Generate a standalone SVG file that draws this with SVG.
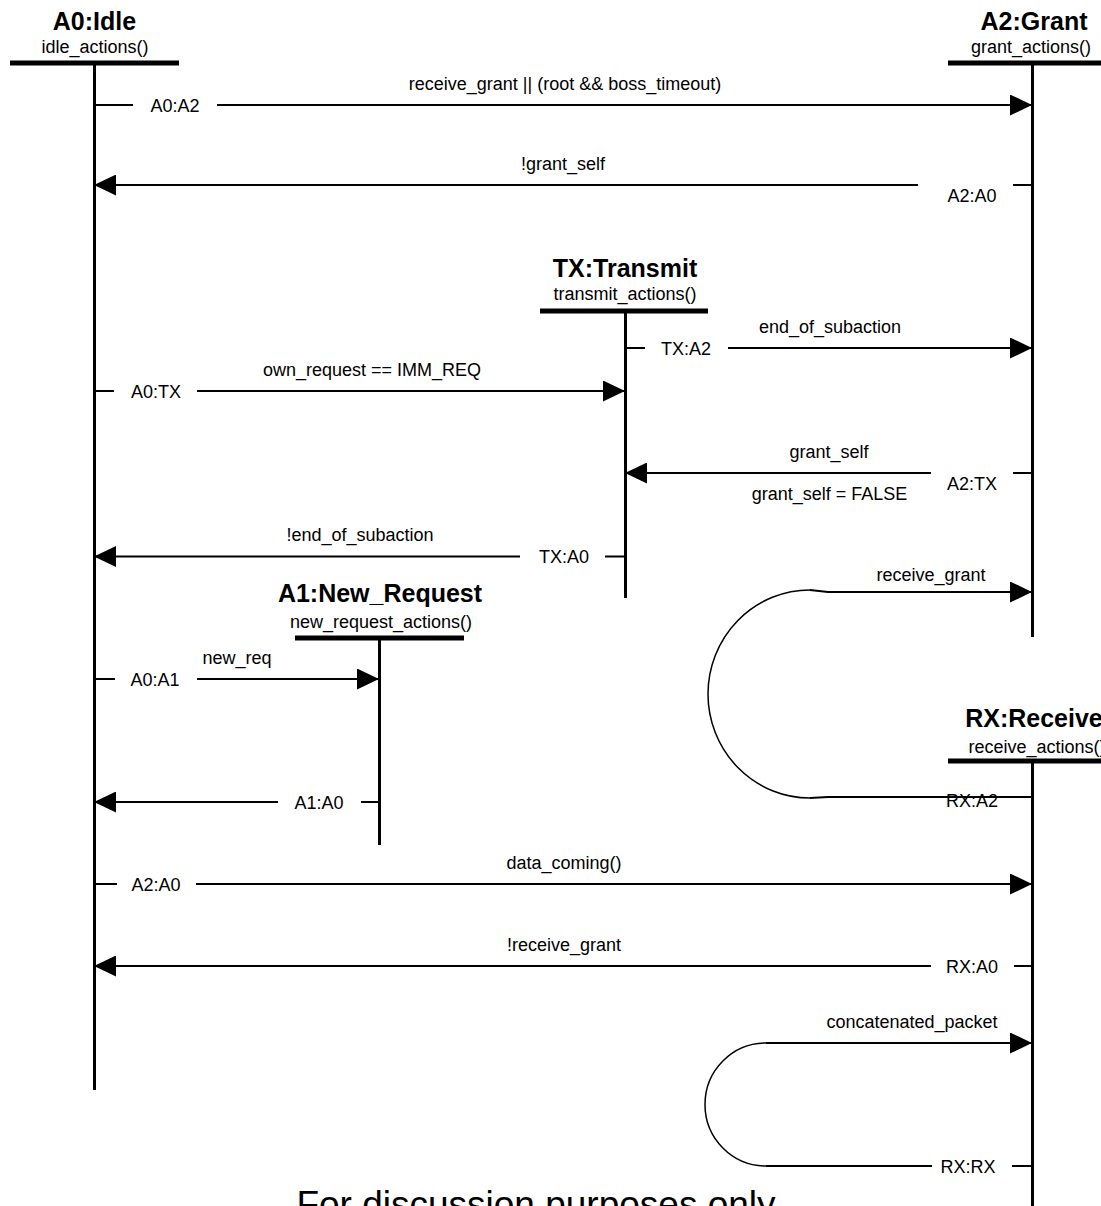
<svg xmlns="http://www.w3.org/2000/svg" width="1101" height="1206" viewBox="0 0 1101 1206">
<style>
.t{font-family:"Liberation Sans",Arial,Helvetica,sans-serif;fill:#000;text-anchor:middle}
.title{font-weight:bold;font-size:25px}
.sub{font-size:18px}
.lbl{font-size:18px}
.foot{font-size:37px}
.bar{stroke:#000;stroke-width:5}
.life{stroke:#000;stroke-width:3}
.msg{stroke:#000;stroke-width:2;fill:none}
.arc{stroke:#000;stroke-width:1.5;fill:none}
.arr{marker-end:url(#ah)}
</style>
<defs>
<marker id="ah" markerUnits="userSpaceOnUse" markerWidth="22" markerHeight="21" refX="22" refY="10.5" orient="auto"><path d="M0,0 L22,10.5 L0,21 Z" fill="#000"/></marker>
</defs>
<rect width="1101" height="1206" fill="#fff"/>

<g id="A0">
<text class="t title" x="94.5" y="30">A0:Idle</text>
<text class="t sub" x="95" y="53">idle_actions()</text>
<line class="bar" x1="10" y1="63" x2="179" y2="63"/>
<line class="life" x1="94.5" y1="63" x2="94.5" y2="1090"/>
</g>

<g id="A2">
<text class="t title" x="1034" y="30">A2:Grant</text>
<text class="t sub" x="1031" y="53">grant_actions()</text>
<line class="bar" x1="948" y1="63" x2="1117" y2="63"/>
<line class="life" x1="1032.5" y1="63" x2="1032.5" y2="637"/>
</g>

<g id="TX">
<text class="t title" x="625" y="277">TX:Transmit</text>
<text class="t sub" x="625" y="300">transmit_actions()</text>
<line class="bar" x1="540" y1="311" x2="708" y2="311"/>
<line class="life" x1="625.5" y1="311" x2="625.5" y2="598"/>
</g>

<g id="A1">
<text class="t title" x="380" y="602">A1:New_Request</text>
<text class="t sub" x="381" y="628">new_request_actions()</text>
<line class="bar" x1="295" y1="638" x2="464" y2="638"/>
<line class="life" x1="379.5" y1="638" x2="379.5" y2="845"/>
</g>

<g id="RX">
<text class="t title" x="1034" y="727">RX:Receive</text>
<text class="t sub" x="1037" y="753">receive_actions()</text>
<line class="bar" x1="948" y1="761" x2="1117" y2="761"/>
<line class="life" x1="1032.5" y1="761" x2="1032.5" y2="1206"/>
</g>

<g id="connectors">
<g id="c-A0-A2">
<line class="msg" x1="94" y1="105" x2="133" y2="105"/>
<path class="msg arr" d="M217,105 H1032"/>
<text class="t lbl" x="175" y="111.5">A0:A2</text>
<text class="t lbl" x="565" y="90">receive_grant || (root &amp;&amp; boss_timeout)</text>
</g>
<g id="c-A2-A0">
<line class="msg" x1="1013" y1="185" x2="1032" y2="185"/>
<path class="msg arr" d="M918,185 H94"/>
<text class="t lbl" x="972" y="202">A2:A0</text>
<text class="t lbl" x="563" y="170">!grant_self</text>
</g>
<g id="c-TX-A2">
<line class="msg" x1="626" y1="348" x2="645" y2="348"/>
<path class="msg arr" d="M728,348 H1032"/>
<text class="t lbl" x="686" y="354.5">TX:A2</text>
<text class="t lbl" x="830" y="333">end_of_subaction</text>
</g>
<g id="c-A0-TX">
<line class="msg" x1="94" y1="391" x2="114" y2="391"/>
<path class="msg arr" d="M197,391 H625"/>
<text class="t lbl" x="156" y="397.5">A0:TX</text>
<text class="t lbl" x="372" y="376">own_request == IMM_REQ</text>
</g>
<g id="c-A2-TX">
<line class="msg" x1="1013" y1="473" x2="1032" y2="473"/>
<path class="msg arr" d="M931,473 H625"/>
<text class="t lbl" x="972" y="490">A2:TX</text>
<text class="t lbl" x="829" y="458">grant_self</text>
<text class="t lbl" x="829.5" y="500">grant_self = FALSE</text>
</g>
<g id="c-TX-A0">
<line class="msg" x1="605" y1="556.5" x2="625" y2="556.5"/>
<path class="msg arr" d="M520,556.5 H94"/>
<text class="t lbl" x="564" y="563">TX:A0</text>
<text class="t lbl" x="360" y="541">!end_of_subaction</text>
</g>
<g id="c-RX-A2">
<path class="msg" d="M1032,797 H828 L810,798"/>
<path class="arc" d="M810,798 A102,104 0 0 1 810,590"/>
<path class="msg arr" d="M810,590 L828,592 H1032"/>
<text class="t lbl" x="972" y="807">RX:A2</text>
<text class="t lbl" x="931" y="581">receive_grant</text>
</g>
<g id="c-A0-A1">
<line class="msg" x1="94" y1="679" x2="115" y2="679"/>
<path class="msg arr" d="M197,679 H379"/>
<text class="t lbl" x="155" y="685.5">A0:A1</text>
<text class="t lbl" x="237" y="664">new_req</text>
</g>
<g id="c-A1-A0">
<line class="msg" x1="361" y1="802" x2="379" y2="802"/>
<path class="msg arr" d="M278,802 H94"/>
<text class="t lbl" x="319" y="808.5">A1:A0</text>
</g>
<g id="c-A2-A0-data">
<line class="msg" x1="94" y1="884" x2="117" y2="884"/>
<path class="msg arr" d="M196,884 H1032"/>
<text class="t lbl" x="156" y="890.5">A2:A0</text>
<text class="t lbl" x="564" y="869">data_coming()</text>
</g>
<g id="c-RX-A0">
<line class="msg" x1="1014" y1="966" x2="1032" y2="966"/>
<path class="msg arr" d="M931,966 H94"/>
<text class="t lbl" x="972" y="972.5">RX:A0</text>
<text class="t lbl" x="564" y="951">!receive_grant</text>
</g>
<g id="c-RX-RX">
<line class="msg" x1="1012" y1="1166" x2="1032" y2="1166"/>
<path class="msg" d="M932,1166 H766"/>
<path class="arc" d="M766,1166 A61,61.5 0 0 1 766,1043"/>
<path class="msg arr" d="M766,1043 H1032"/>
<text class="t lbl" x="968" y="1172.5">RX:RX</text>
<text class="t lbl" x="912" y="1028">concatenated_packet</text>
</g>
</g>

<text class="t foot" x="536" y="1217">For discussion purposes only</text>
</svg>
